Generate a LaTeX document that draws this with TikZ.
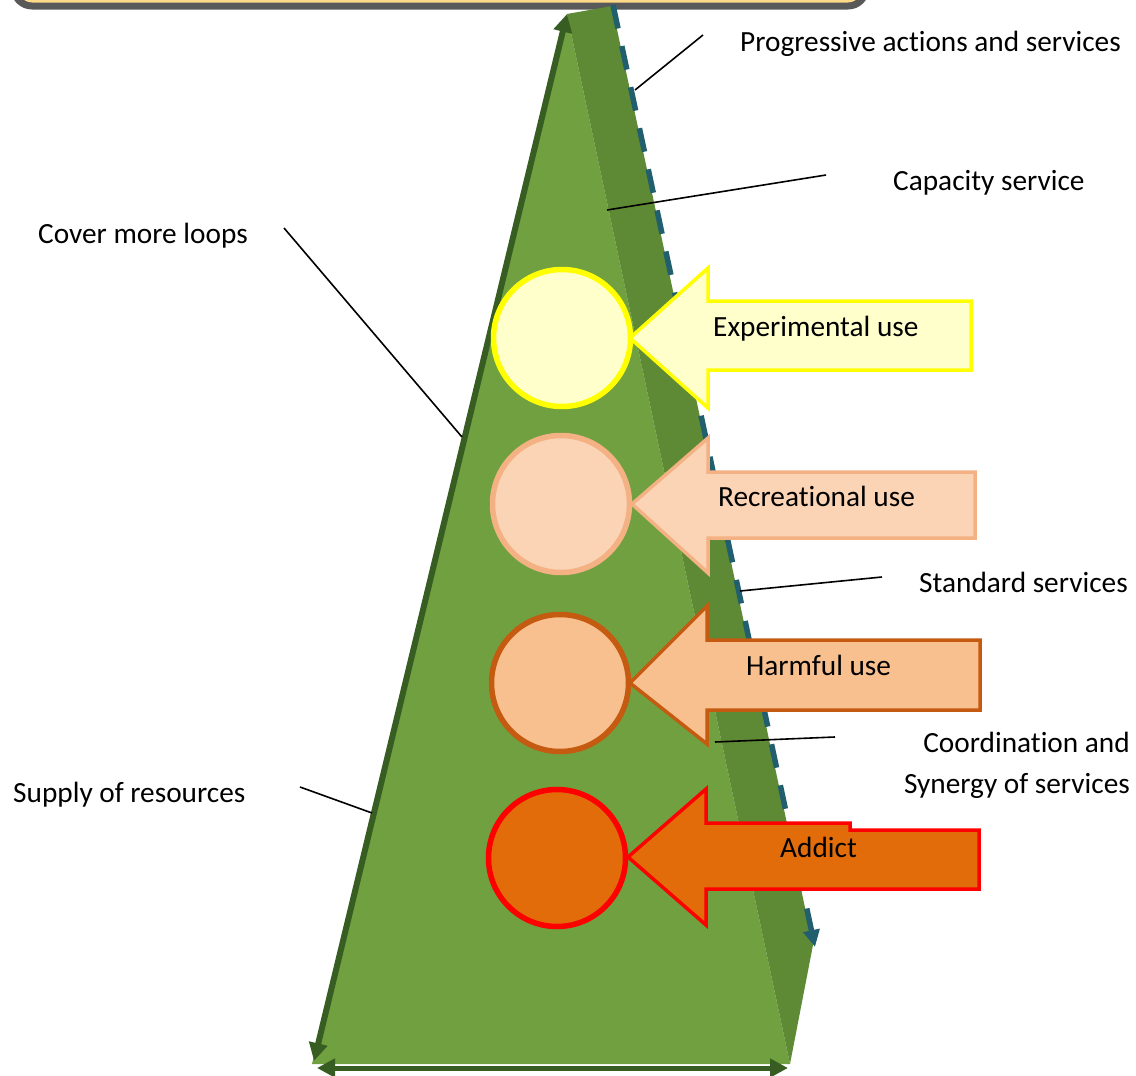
\documentclass[tikz,border=0pt]{standalone}
\usepackage{fontspec}
\setmainfont{Carlito}[Ligatures=NoCommon]
\usetikzlibrary{arrows.meta}

\definecolor{boxfill}{HTML}{FFDA8A}
\definecolor{boxgray}{HTML}{595959}
\definecolor{pyrlight}{HTML}{70A03F}
\definecolor{pyrdark}{HTML}{5E8A35}
\definecolor{pyrline}{HTML}{385D22}
\definecolor{dashblue}{HTML}{215E6E}
\definecolor{expfill}{HTML}{FFFFCC}
\definecolor{expdraw}{HTML}{FFFF00}
\definecolor{recfill}{HTML}{FAD4B4}
\definecolor{recdraw}{HTML}{F4B183}
\definecolor{harmfill}{HTML}{F8BF8F}
\definecolor{harmdraw}{HTML}{C55A11}
\definecolor{addfill}{HTML}{E36C0A}
\definecolor{adddraw}{HTML}{FF0000}

\begin{document}
\begin{tikzpicture}[x=1pt, y=-1pt,
	lbl/.style={inner sep=0pt, font=\fontsize{29.3}{35}\selectfont},
	leader/.style={draw=black, line width=1.6pt},
	stagecircle/.style={circle, line width=5.5pt, minimum size=137pt, inner sep=0pt},
	usearrow/.style={line width=3.5pt, line join=miter}]
	\useasboundingbox (0,0) rectangle (1136,1076);

	% title box, cut by the page edge
	\begin{scope}
		\clip (0,0) rectangle (1136,1076);
		\draw[fill=boxfill, draw=boxgray, line width=7pt, rounded corners=18pt] (14,-120) rectangle (866,6);
	\end{scope}

	% pyramid
	\coordinate (apex) at (567,14);
	\coordinate (apexR) at (612,6);
	\coordinate (baseL) at (312,1064);
	\coordinate (baseR) at (790,1064);
	\coordinate (backR) at (813,945);
	\fill[pyrlight] (apex) -- (baseL) -- (baseR) -- cycle;
	\fill[pyrdark] (apex) -- (apexR) -- (backR) -- (baseR) -- cycle;

	\coordinate (dashS) at (613,5);
	\coordinate (dashE) at (815,947);
	\draw[dashblue, line width=5.5pt, dash pattern=on 24pt off 18pt, -{Triangle[length=17pt, width=16pt]}] (dashS) -- (dashE);

	\coordinate (leftB) at (314,1061);
	\coordinate (leftT) at (567,14);
	\draw[pyrline, line width=6pt, {Triangle[length=18pt, width=18pt]}-{Triangle[length=18pt, width=18pt]}] (leftB) -- (leftT);
	\coordinate (botL) at (317,1068);
	\coordinate (botR) at (788,1068);
	\draw[pyrline, line width=5pt, {Triangle[length=18pt, width=18pt]}-{Triangle[length=18pt, width=18pt]}] (botL) -- (botR);

	% stages
	\node[stagecircle, fill=expfill, draw=expdraw] (expC) at (562,338) {};
	\node[stagecircle, fill=recfill, draw=recdraw] (recC) at (561,504) {};
	\node[stagecircle, fill=harmfill, draw=harmdraw] (harmC) at (560,683) {};
	\node[stagecircle, fill=addfill, draw=adddraw] (addC) at (557,858) {};

	\draw[usearrow, fill=expfill, draw=expdraw] (630,338) -- (708,268) -- (708,301) -- (971,301) -- (971,370) -- (708,370) -- (708,408) -- cycle;
	\draw[usearrow, fill=recfill, draw=recdraw] (632,504) -- (708,438) -- (708,472) -- (975,472) -- (975,538) -- (708,538) -- (708,573) -- cycle;
	\draw[usearrow, fill=harmfill, draw=harmdraw] (630,683) -- (707,606) -- (707,640) -- (980,640) -- (980,710) -- (707,710) -- (707,744) -- cycle;
	\draw[usearrow, fill=addfill, draw=adddraw] (628,857) -- (706,789) -- (706,823) -- (850,823) -- (850,830) -- (979,830) -- (979,889) -- (706,889) -- (706,925) -- cycle;

	\node[lbl, anchor=base west] (expT) at (713,336) {Experimental use};
	\node[lbl, anchor=base west] (recT) at (718,506) {Recreational use};
	\node[lbl, anchor=base west] (harmT) at (746,675) {Harmful use};
	\node[lbl, anchor=base west] (addT) at (780,857) {Addict};

	% side labels
	\node[lbl, anchor=base west] (progT) at (740,51) {Progressive actions and services};
	\node[lbl, anchor=base west] (capT) at (893,190) {Capacity service};
	\node[lbl, anchor=base west] (coverT) at (38,243) {Cover more loops};
	\node[lbl, anchor=base west] (stdT) at (919,592) {Standard services};
	\node[lbl, anchor=base east] (coordT) at (1130,752) {Coordination and};
	\node[lbl, anchor=base east] (synT) at (1130,793) {Synergy of services};
	\node[lbl, anchor=base west] (supT) at (13,802) {Supply of resources};

	\coordinate (progA) at (703,35);   \coordinate (progB) at (635,90);
	\coordinate (capA) at (826,175);   \coordinate (capB) at (607,210);
	\coordinate (coverA) at (284,228); \coordinate (coverB) at (462,437);
	\coordinate (stdA) at (882,577);   \coordinate (stdB) at (740,591);
	\coordinate (coordA) at (835,737); \coordinate (coordB) at (715,742);
	\coordinate (supA) at (300,787);   \coordinate (supB) at (372,813);
	\draw[leader] (progA) -- (progB);
	\draw[leader] (capA) -- (capB);
	\draw[leader] (coverA) -- (coverB);
	\draw[leader] (stdA) -- (stdB);
	\draw[leader] (coordA) -- (coordB);
	\draw[leader] (supA) -- (supB);
\end{tikzpicture}
\end{document}
